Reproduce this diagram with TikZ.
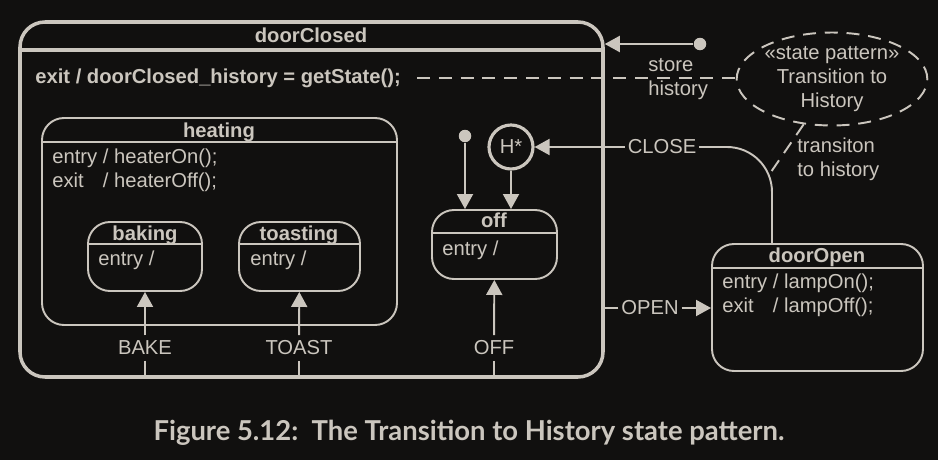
\documentclass[tikz,border=0pt]{standalone}
\usepackage{fontspec}
\setmainfont{Liberation Sans}
\newfontfamily\captionfont{Lato}
\usepackage{tikz}
\usetikzlibrary{arrows.meta,positioning,shapes.geometric,fit}
\definecolor{bgdark}{RGB}{17,16,15}
\definecolor{chalk}{RGB}{203,198,190}

\begin{document}
\begin{tikzpicture}[
  x=0.02cm, y=-0.02cm,
  every node/.style={inner sep=0pt, text=chalk, font=\fontsize{11.5}{13.8}\selectfont},
  statebox/.style={draw=chalk, line width=1.1pt, rounded corners=0.44cm},
  superbox/.style={statebox, line width=2pt, rounded corners=0.5cm},
  statename/.style={anchor=base, font=\fontsize{11.5}{13.8}\selectfont\bfseries},
  activity/.style={anchor=base west},
  divider/.style={draw=chalk, line width=1.1pt},
  trans/.style={draw=chalk, line width=1.1pt},
  tip/.style={trans, -{Triangle[length=0.3cm,width=0.32cm]}},
  translabel/.style={inner xsep=1.5pt, inner ysep=3pt},
  dot/.style={circle, fill=chalk, minimum size=0.25cm},
  notelink/.style={draw=chalk, line width=1.1pt, dash pattern=on 7.4pt off 5pt}
]
\fill[bgdark] (0,0) rectangle (938,460);

\node[superbox, fit={(20,22) (603,377)}] (doorClosed) {};
\draw[divider, line width=2pt] (20,50) -- (603,50);
\node[statename] at (311,42) {doorClosed};
\node[activity, font=\fontsize{11.5}{13.8}\selectfont\bfseries] (exitact) at (35,83)
  {exit / doorClosed\_history = getState();};

\node[statebox, fit={(42,118) (397,325)}] (heating) {};
\draw[divider] (42,142) -- (397,142);
\node[statename] at (219,137) {heating};
\node[activity] at (52,163) {\begin{tabular}[t]{@{}l@{ / }l}
  entry & heaterOn();\\ exit & heaterOff();\end{tabular}};

\node[statebox, fit={(88,222) (202,291)}] (baking) {};
\draw[divider] (88,244) -- (202,244);
\node[statename] at (145,240) {baking};
\node[activity] at (98,265) {entry /};

\node[statebox, fit={(239,222) (360,291)}] (toasting) {};
\draw[divider] (239,244) -- (360,244);
\node[statename] at (299,240) {toasting};
\node[activity] at (250,265) {entry /};

\node[statebox, fit={(432,210) (557,279)}] (off) {};
\draw[divider] (432,233) -- (557,233);
\node[statename] at (494,227) {off};
\node[activity] at (442,255) {entry /};

\node[dot] (init) at (465,136) {};
\node[circle, draw=chalk, line width=1.8pt, minimum size=0.88cm] (hist) at (511,147) {H*};

\node[statebox, fit={(712,244) (923,371)}] (doorOpen) {};
\draw[divider] (712,268) -- (923,268);
\node[statename] at (817,262) {doorOpen};
\node[activity] at (722,288) {\begin{tabular}[t]{@{}l@{ / }l}
  entry & lampOn();\\ exit & lampOff();\end{tabular}};

\node[dot] (storedot) at (700,44) {};
\node[ellipse, draw=chalk, line width=1.1pt, dash pattern=on 7.4pt off 5pt,
  minimum width=3.68cm, minimum height=1.84cm, align=center] (note) at (832,79)
  {«state pattern»\\ Transition to\\ History};
\node[anchor=west, align=left] at (648,79) {store\\ history};
\node[anchor=west, align=left] at (797,159) {transiton\\ to history};
\coordinate (histlink) at (771,172);

\node[translabel] (bake) at (145,348) {BAKE};
\node[translabel] (toast) at (299,348) {TOAST};
\node[translabel] (offev) at (494,348) {OFF};
\node[translabel] (open) at (650,308) {OPEN};
\node[translabel] (close) at (662,147) {CLOSE};

\draw[tip] (storedot) -- (storedot -| doorClosed.east);
\draw[tip] (init) -- (init |- off.north);
\draw[tip] (hist) -- (hist |- off.north);
\draw[trans] (bake) -- (bake |- doorClosed.south);
\draw[tip] (bake) -- (baking);
\draw[trans] (toast) -- (toast |- doorClosed.south);
\draw[tip] (toast) -- (toasting);
\draw[trans] (offev) -- (offev |- doorClosed.south);
\draw[tip] (offev) -- (off);
\draw[trans] (open) -- (open -| doorClosed.east);
\draw[tip] (open) -- (open -| doorOpen.west);
\draw[trans, rounded corners=0.9cm] (772,244) |- (close.east);
\draw[tip] (close) -- (hist);
\draw[notelink] ([xshift=0.32cm]exitact.east) -- (exitact.east -| note.west);
\draw[notelink] (note.-122) -- (histlink);

\node[anchor=base, font=\captionfont\bfseries\fontsize{15.6}{17}\selectfont] at (469,440)
  {Figure 5.12:\ \ The Transition to History state pattern.};
\end{tikzpicture}
\end{document}
